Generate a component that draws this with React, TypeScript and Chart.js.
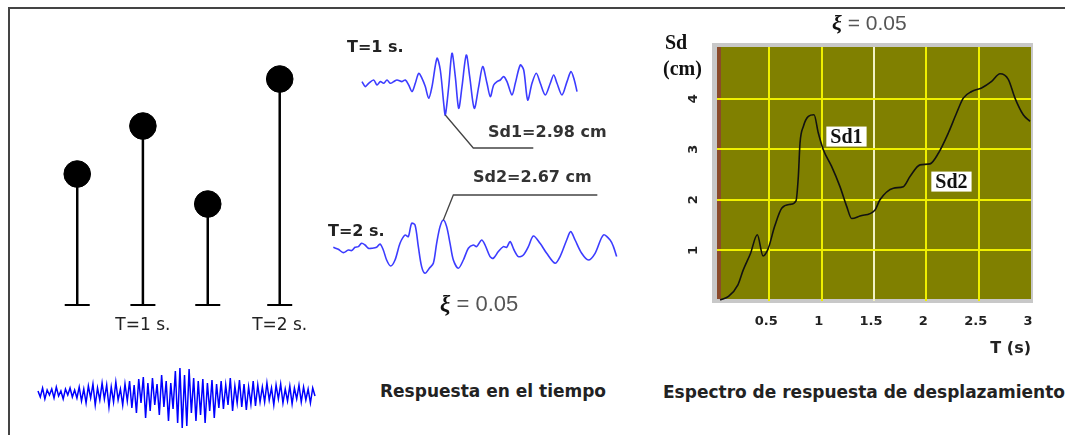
import React, { useEffect, useRef } from 'react';
import Chart from 'chart.js/auto';

// ---------- Displacement spectrum (xi = 0.05) ----------
const SPECTRUM_T = [0.03, 0.11, 0.2, 0.25, 0.32, 0.385, 0.44, 0.49, 0.55, 0.62, 0.7, 0.755, 0.777, 0.793, 0.825, 0.873, 0.927, 0.968, 1.016, 1.095, 1.175, 1.239, 1.287, 1.366, 1.51, 1.557, 1.685, 1.78, 1.844, 1.94, 2.035, 2.115, 2.21, 2.29, 2.353, 2.433, 2.528, 2.624, 2.704, 2.783, 2.847, 2.926, 2.99];
const SPECTRUM_SD = [0.02, 0.09, 0.32, 0.61, 0.94, 1.31, 0.89, 1.04, 1.47, 1.84, 1.91, 1.98, 2.46, 3.12, 3.45, 3.65, 3.68, 3.32, 2.99, 2.66, 2.26, 1.87, 1.63, 1.68, 1.8, 2.0, 2.23, 2.26, 2.46, 2.69, 2.71, 2.92, 3.32, 3.72, 4.01, 4.14, 4.21, 4.34, 4.49, 4.38, 4.01, 3.68, 3.55];
const X_TICKS = [0.5, 1, 1.5, 2, 2.5, 3];
const Y_TICKS = [1, 2, 3, 4];
const SD_LABELS = ['Sd1', 'Sd2'];
const SD_LABEL_T = [1.237, 2.24];
const SD_LABEL_SD = [3.25, 2.36];

// ---------- Time responses ----------
const T1_TIME = [0, 0.33, 0.67, 1.17, 1.5, 1.83, 2.17, 2.5, 2.83, 3.17, 3.5, 4.0, 4.33, 4.67, 5.0, 5.33, 5.67, 6.0, 6.33, 6.67, 7.0, 7.5, 7.83, 8.17, 8.33, 8.67, 9.0, 9.33, 9.67, 10.0, 10.43, 10.77, 11.23, 11.67, 12.07, 12.5, 12.83, 13.17, 13.5, 13.83, 14.17, 14.5, 15.0, 15.33, 15.83, 16.17, 16.57, 17.0, 17.43, 17.83, 18.33, 18.83, 19.17, 19.5, 20.0, 20.5, 20.9, 21.23, 21.5];
const T1_DISP = [0.17, -0.33, 0, 0.33, -0.17, 0.17, 0, 0.33, 0, 0.17, 0.33, 0.17, 0.33, -0.17, -0.83, 0, 1.0, 0.5, -0.33, -1.5, -0.33, 2.5, 1.33, -2.0, -3.17, -0.33, 3.0, 0.67, -2.5, -0.33, 2.83, 0.67, -2.5, -0.33, 1.67, 0, -1.33, -0.17, 0.17, 0.33, 0.67, 0.17, -1.17, 0, 1.83, 1.33, -1.67, 0, 1.0, 0, -1.17, 0, 0.83, 0, -1.17, 0.17, 1.17, 0.33, -0.83];

const T2_TIME = [0, 0.5, 1.0, 1.5, 1.83, 2.17, 2.5, 2.83, 3.17, 3.5, 3.83, 4.33, 4.67, 5.0, 5.33, 5.73, 6.17, 6.67, 7.17, 7.5, 7.83, 8.17, 8.5, 8.83, 9.17, 9.6, 10.0, 10.33, 10.67, 11.0, 11.33, 11.67, 12.0, 12.5, 13.0, 13.5, 14.0, 14.33, 14.83, 15.17, 15.67, 16.0, 16.5, 17.0, 17.33, 17.67, 18.07, 18.5, 19.0, 19.5, 20.0, 20.67, 21.33, 22.17, 22.67, 23.33, 23.73, 24.17, 24.83, 25.5, 26.17, 27.0, 27.67, 28.0, 28.33];
const T2_DISP = [0.1, -0.1, -0.43, -0.17, -0.23, 0.1, 0.17, 0.5, 0.33, 0, 0, 0.1, 0.43, -0.17, -1.17, -1.77, -1.17, 0.5, 1.33, 1.17, 2.5, 2.33, 0.17, -1.83, -2.5, -2.0, -1.5, 0.5, 2.17, 2.83, 2.17, 0.5, -1.17, -2.0, -1.17, 0, 0.33, 0.17, 0.83, 0.33, -0.83, -1.0, -0.33, 0.17, 0.1, 0.67, -0.17, -0.83, -0.67, 0.17, 1.23, 0.5, -0.5, -1.5, -0.83, 0.83, 1.67, 0.83, -0.5, -1.17, -0.5, 1.33, 0.83, 0.17, -0.83];

// ---------- Ground motion record ----------
const QUAKE_DISP = [
  2, -4, 5, -6, 3, -2, 4, -5, 6, -3, 2, -6, 4, -2, 5, -4, 3, -5,
  6, -8, 4, -10, 7, -5, 9, -12, 5, -7, 10, -6, 8, -14, 6, -9, 11, -7, 4, -12, 9, -8,
  12, -15, 8, -20, 14, -10, 16, -25, 10, -18, 15, -12, 9, -22, 18, -14, 12, -28, 10, -16,
  22, -30, 25, -35, 18, -33, 24, -20,
  15, -28, 12, -22, 14, -30, 10, -18, 13, -25, 9, -15,
  12, -16, 8, -12, 15, -18, 7, -10, 13, -14, 9, -17, 6, -11, 12, -13, 8, -9,
  6, -9, 10, -7, 5, -12, 8, -6, 9, -10, 4, -8, 7, -11, 5, -6, 8, -9, 6, -7, 4, -10, 5, -3,
];

// ---------- Pendulums ----------
const PENDULUM_X = [2.0, 4.4, 6.77, 9.4];
const PENDULUM_LENGTH = [13.1, 17.9, 10.1, 22.6];
const PENDULUM_LABELS = ['', 'T=1 s.', '', 'T=2 s.'];

const SANS = '"DejaVu Sans", sans-serif';

const plotFramePlugin = {
  id: 'plotFrame',
  beforeDraw(chart: any) {
    const { ctx, chartArea } = chart;
    const { left, top, right, bottom } = chartArea;
    ctx.save();
    ctx.fillStyle = '#c8c8c8';
    ctx.fillRect(left - 5, top - 4, right - left + 7, bottom - top + 6);
    ctx.fillStyle = '#808000';
    ctx.fillRect(left, top, right - left, bottom - top - 2);
    ctx.fillStyle = '#8b4a2a';
    ctx.fillRect(left, top, 4, bottom - top - 2);
    ctx.restore();
  },
};

const sdLabelPlugin = {
  id: 'sdLabels',
  afterDatasetsDraw(chart: any) {
    const { ctx, scales } = chart;
    ctx.save();
    ctx.font = 'bold 20px "Liberation Serif", serif';
    ctx.textAlign = 'center';
    ctx.textBaseline = 'middle';
    SD_LABELS.forEach((lab, i) => {
      const x = scales.x.getPixelForValue(SD_LABEL_T[i]);
      const y = scales.y.getPixelForValue(SD_LABEL_SD[i]);
      const w = ctx.measureText(lab).width + 8;
      ctx.fillStyle = '#ffffff';
      ctx.fillRect(x - w / 2, y - 10, w, 20);
      ctx.fillStyle = '#111';
      ctx.fillText(lab, x, y + 1);
    });
    ctx.restore();
  },
};

function leaderPlugin(mode: 'min' | 'max', dx: number, dy: number, len: number) {
  return {
    id: 'leader',
    afterDatasetsDraw(chart: any) {
      const data = chart.data.datasets[0].data as { x: number; y: number }[];
      let idx = 0;
      data.forEach((p, i) => {
        if (mode === 'min' ? p.y < data[idx].y : p.y > data[idx].y) idx = i;
      });
      const pt = chart.getDatasetMeta(0).data[idx];
      const ctx = chart.ctx;
      ctx.save();
      ctx.strokeStyle = '#444';
      ctx.lineWidth = 1.3;
      ctx.beginPath();
      ctx.moveTo(pt.x, pt.y);
      ctx.lineTo(pt.x + dx, pt.y + dy);
      ctx.lineTo(pt.x + dx + len, pt.y + dy);
      ctx.stroke();
      ctx.restore();
    },
  };
}

function waveConfig(times: number[], disp: number[], color: string, width: number, tension: number,
  xMax: number, yMin: number, yMax: number, padding: any, plugins: any[]) {
  return {
    type: 'line',
    data: {
      datasets: [{
        data: times.map((t, i) => ({ x: t, y: disp[i] })),
        borderColor: color,
        borderWidth: width,
        pointRadius: 0,
        tension,
        clip: false,
      }],
    },
    options: {
      responsive: false,
      animation: false,
      events: [],
      layout: { padding },
      plugins: { legend: { display: false }, tooltip: { enabled: false } },
      scales: {
        x: { type: 'linear', display: false, min: 0, max: xMax },
        y: { type: 'linear', display: false, min: yMin, max: yMax },
      },
    },
    plugins,
  } as any;
}

const abs = (l: number, t: number): React.CSSProperties => ({ position: 'absolute', left: l, top: t });

export default function App() {
  const specRef = useRef<HTMLCanvasElement>(null);
  const t1Ref = useRef<HTMLCanvasElement>(null);
  const t2Ref = useRef<HTMLCanvasElement>(null);
  const quakeRef = useRef<HTMLCanvasElement>(null);
  const pendRef = useRef<HTMLCanvasElement>(null);

  useEffect(() => {
    const charts: Chart[] = [];
    const tickFont = { family: SANS, weight: 'bold', size: 13 };

    charts.push(new Chart(specRef.current!, {
      type: 'line',
      data: {
        datasets: [{
          data: SPECTRUM_T.map((t, i) => ({ x: t, y: SPECTRUM_SD[i] })),
          borderColor: '#111',
          borderWidth: 1.6,
          pointRadius: 0,
          cubicInterpolationMode: 'monotone',
        }],
      },
      options: {
        responsive: false,
        animation: false,
        events: [],
        layout: { padding: { left: 0, right: 34, top: 47, bottom: 0 } },
        plugins: { legend: { display: false }, tooltip: { enabled: false } },
        scales: {
          x: {
            type: 'linear', min: 0, max: 3,
            afterBuildTicks: (s: any) => { s.ticks = X_TICKS.map((v) => ({ value: v })); },
            afterFit: (s: any) => { s.height = 69; },
            border: { display: false },
            grid: {
              drawTicks: false, lineWidth: 2,
              color: (c: any) => (c.tick && c.tick.value === 1.5 ? '#f2f2c4' : c.tick && c.tick.value >= 3 ? 'rgba(0,0,0,0)' : '#f0f000'),
            },
            ticks: {
              padding: 13, labelOffset: -3, autoSkip: false, maxRotation: 0, minRotation: 0,
              color: '#222', font: tickFont, callback: (v: any) => String(v),
            },
            title: {
              display: true, text: 'T (s)', align: 'end', color: '#222',
              font: { family: SANS, weight: 'bold', size: 16 }, padding: { top: 0, bottom: 12 },
            },
          },
          y: {
            type: 'linear', min: 0, max: 5.02,
            afterBuildTicks: (s: any) => { s.ticks = Y_TICKS.map((v) => ({ value: v })); },
            afterFit: (s: any) => { s.width = 77; },
            border: { display: false },
            grid: { drawTicks: false, lineWidth: 2, color: '#f0f000' },
            ticks: {
              minRotation: 90, maxRotation: 90, crossAlign: 'center', padding: 19,
              color: '#222', font: tickFont, callback: (v: any) => String(v),
            },
          },
        },
      },
      plugins: [plotFramePlugin, sdLabelPlugin],
    } as any));

    charts.push(new Chart(t1Ref.current!, waveConfig(T1_TIME, T1_DISP, '#3c3cff', 1.6, 0.3, 21.5, -4.67, 4.33,
      { left: 10, right: 15, top: 10, bottom: 25 }, [leaderPlugin('min', 28, 33, 60)])));

    charts.push(new Chart(t2Ref.current!, waveConfig(T2_TIME, T2_DISP, '#3c3cff', 1.6, 0.3, 28.33, -2.67, 6.33,
      { left: 10.3, right: 11.3, top: 10, bottom: 10 }, [leaderPlugin('max', 10, -25, 144)])));

    charts.push(new Chart(quakeRef.current!, waveConfig(QUAKE_DISP.map((_, i) => i), QUAKE_DISP, '#0000ff', 1.5, 0,
      QUAKE_DISP.length - 1, -40, 30, { left: 10, right: 10, top: 5, bottom: 2 }, [])));

    charts.push(new Chart(pendRef.current!, {
      type: 'line',
      data: {
        datasets: PENDULUM_X.map((x, i) => ({
          data: [{ x, y: 0 }, { x, y: PENDULUM_LENGTH[i] }],
          borderColor: '#000',
          borderWidth: 2.5,
          pointStyle: ['line', 'circle'],
          pointRadius: [12.5, 13.3],
          pointBorderWidth: [2, 1],
          pointBackgroundColor: '#000',
          pointBorderColor: '#000',
          clip: false,
        })),
      },
      options: {
        responsive: false,
        animation: false,
        events: [],
        layout: { padding: { left: 0, right: 0, top: 15, bottom: 0 } },
        plugins: { legend: { display: false }, tooltip: { enabled: false } },
        scales: {
          x: {
            type: 'linear', min: 0, max: 11,
            afterBuildTicks: (s: any) => { s.ticks = PENDULUM_X.map((v) => ({ value: v })); },
            afterFit: (s: any) => { s.height = 45; },
            border: { display: false },
            grid: { display: false, drawTicks: false },
            ticks: {
              padding: 10, autoSkip: false, maxRotation: 0, minRotation: 0, color: '#222',
              font: { family: SANS, size: 17 },
              callback: (_v: any, i: number) => PENDULUM_LABELS[i],
            },
          },
          y: { type: 'linear', display: false, min: 0, max: 25 },
        },
      },
    } as any));

    return () => charts.forEach((c) => c.destroy());
  }, []);

  const boldSans = (size: number): React.CSSProperties => ({
    fontFamily: SANS, fontWeight: 'bold', fontSize: size, lineHeight: 1, whiteSpace: 'nowrap', color: '#222',
  });
  const xiStyle = (size: number): React.CSSProperties => ({
    fontFamily: '"Liberation Serif", serif', fontWeight: 'bold', fontStyle: 'italic', fontSize: size + 1, color: '#111',
  });
  const xiVal = (size: number): React.CSSProperties => ({
    fontFamily: '"Liberation Sans", sans-serif', fontSize: size, color: '#555',
  });

  return (
    <div style={{ position: 'fixed', left: 0, top: 0, width: 1065, height: 435, background: '#fff', overflow: 'hidden' }}>
      <div style={{ position: 'absolute', left: 8, top: 7, width: 1100, height: 500, borderTop: '2px solid #444', borderLeft: '2px solid #444' }} />

      <canvas ref={pendRef} width={330} height={310} style={abs(8, 40)} />
      <canvas ref={t1Ref} width={240} height={125} style={abs(352, 30)} />
      <canvas ref={t2Ref} width={305} height={110} style={abs(323, 175)} />
      <canvas ref={quakeRef} width={297} height={77} style={abs(28, 358)} />
      <canvas ref={specRef} width={425} height={370} style={abs(640, 0)} />

      <div style={{ ...abs(347, 39), ...boldSans(16) }}>T=1 s.</div>
      <div style={{ ...abs(488, 124), ...boldSans(16), color: '#333' }}>Sd1=2.98 cm</div>
      <div style={{ ...abs(473, 169), ...boldSans(16), color: '#333' }}>Sd2=2.67 cm</div>
      <div style={{ ...abs(328, 223), ...boldSans(16) }}>T=2 s.</div>
      <div style={{ ...abs(440, 292), lineHeight: 1, whiteSpace: 'nowrap' }}>
        <span style={xiStyle(22)}>ξ</span><span style={xiVal(22)}> = 0.05</span>
      </div>
      <div style={{ ...abs(380, 383), ...boldSans(17) }}>Respuesta en el tiempo</div>
      <div style={{ ...abs(663, 384), ...boldSans(17) }}>Espectro de respuesta de desplazamiento</div>
      <div style={{ ...abs(832, 12), lineHeight: 1, whiteSpace: 'nowrap' }}>
        <span style={xiStyle(21)}>ξ</span><span style={xiVal(21)}> = 0.05</span>
      </div>
      <div style={{ ...abs(665, 32), fontFamily: '"Liberation Serif", serif', fontWeight: 'bold', fontSize: 20, lineHeight: 1, color: '#111' }}>Sd</div>
      <div style={{ ...abs(663, 58), fontFamily: '"Liberation Serif", serif', fontWeight: 'bold', fontSize: 20, lineHeight: 1, color: '#111' }}>(cm)</div>
    </div>
  );
}
